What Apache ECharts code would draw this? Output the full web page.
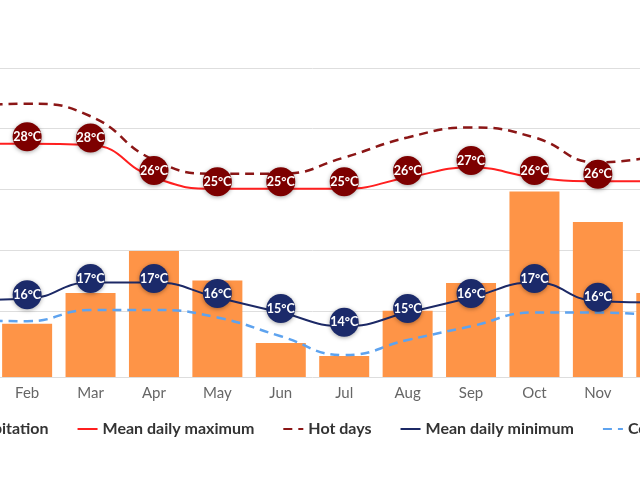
<!DOCTYPE html>
<html>
<head>
<meta charset="utf-8">
<script src="https://cdn.jsdelivr.net/npm/echarts@6/dist/echarts.min.js"></script>
<style>
html,body{margin:0;padding:0;width:640px;height:480px;overflow:hidden;background:#fff;}
#chart{position:absolute;left:-130px;top:0;width:900px;height:480px;}
</style>
</head>
<body>
<div id="chart"></div>
<script>
const months = ['Jan','Feb','Mar','Apr','May','Jun','Jul','Aug','Sep','Oct','Nov','Dec'];
const precipitation = [40, 43, 68, 102, 78, 27.5, 17, 53.5, 76, 150, 125.5, 68];
const meanMax = [28.5, 28.5, 28.4, 25.8, 24.9, 24.9, 24.9, 25.8, 26.6, 25.8, 25.5, 25.5];
const hotDays = [31.5, 31.7, 30.7, 27.2, 26.1, 26.1, 27.4, 29.0, 29.8, 29.0, 27.0, 27.6];
const meanMin = [16.0, 16.1, 17.4, 17.4, 16.2, 15.0, 13.9, 15.0, 16.2, 17.4, 15.9, 15.8];
const coldNights = [14.4, 14.3, 15.2, 15.2, 14.6, 13.1, 11.6, 12.8, 13.9, 15.0, 15.0, 14.7];
const maxLabels = [28, 28, 28, 26, 25, 25, 25, 26, 27, 26, 26, 26];
const minLabels = [16, 16, 17, 17, 16, 15, 14, 15, 16, 17, 16, 16];
const legendNames = ['Precipitation','Mean daily maximum','Hot days','Mean daily minimum','Cold nights'];

const chart = echarts.init(document.getElementById('chart'), null, {renderer:'canvas'});
const FONT = 'Lato, "Noto Sans", sans-serif';

function circleSeries(name, values, labels, color, offset) {
  return {
    name: name, type: 'scatter', xAxisIndex: 0, yAxisIndex: 1,
    data: values, symbol: 'circle', symbolSize: 29, symbolOffset: [0, offset],
    z: 5, silent: true,
    itemStyle: {color: color, opacity: 1, shadowBlur: 4, shadowColor: 'rgba(0,0,0,0.35)', shadowOffsetY: 1},
    label: {
      show: true, position: 'inside', color: '#fff', fontFamily: FONT,
      fontSize: 12.5, fontWeight: 'bold',
      formatter: p => labels[p.dataIndex] + '°C'
    }
  };
}

chart.setOption({
  animation: false,
  textStyle: {fontFamily: FONT},
  legend: {
    data: legendNames.map((n, i) => i === 0 ? {name: n} : {name: n, itemStyle: {opacity: 0}}),
    top: 416, left: 'center', itemGap: 28,
    itemWidth: 20, itemHeight: 12,
    textStyle: {fontFamily: FONT, fontSize: 16, fontWeight: 'bold', color: '#333'}
  },
  grid: [
    {left: 62, width: 761, top: 68, height: 309},
    {left: 62, width: 761, top: 68, height: 242.8}
  ],
  xAxis: [
    {type: 'category', gridIndex: 0, data: months, boundaryGap: true,
     axisLine: {lineStyle: {color: '#dddddd'}}, axisTick: {show: false},
     axisLabel: {color: '#666', fontSize: 15, fontFamily: FONT, margin: 9}},
    {type: 'value', gridIndex: 1, show: false, min: 0, max: 1}
  ],
  yAxis: [
    {type: 'value', gridIndex: 0, min: 0, max: 250, show: false, splitLine: {show: false}},
    {type: 'value', gridIndex: 0, min: 9.84, max: 34.56, show: false, splitLine: {show: false}},
    {type: 'value', gridIndex: 1, min: 0, max: 4, interval: 1,
     axisLine: {show: false}, axisTick: {show: false}, axisLabel: {show: false},
     splitLine: {show: true, lineStyle: {color: '#dedede', width: 1}}}
  ],
  series: [
    {name: 'Precipitation', type: 'bar', xAxisIndex: 0, yAxisIndex: 0, data: precipitation,
     barWidth: 50, itemStyle: {color: '#fe9447'}, z: 1},
    {name: 'Mean daily maximum', type: 'line', xAxisIndex: 0, yAxisIndex: 1, data: meanMax,
     smooth: 0.5, symbol: 'none', lineStyle: {color: '#ff1f1f', width: 2}, itemStyle: {color: '#ff1f1f'}, z: 3},
    {name: 'Hot days', type: 'line', xAxisIndex: 0, yAxisIndex: 1, data: hotDays,
     smooth: 0.5, symbol: 'none', lineStyle: {color: '#8b1616', width: 2.5, type: [9, 6]}, itemStyle: {color: '#8b1616'}, z: 3},
    {name: 'Mean daily minimum', type: 'line', xAxisIndex: 0, yAxisIndex: 1, data: meanMin,
     smooth: 0.5, symbol: 'none', lineStyle: {color: '#1c2966', width: 2}, itemStyle: {color: '#1c2966'}, z: 3},
    {name: 'Cold nights', type: 'line', xAxisIndex: 0, yAxisIndex: 1, data: coldNights,
     smooth: 0.5, symbol: 'none', lineStyle: {color: '#5ea3ef', width: 2.5, type: [9, 6]}, itemStyle: {color: '#5ea3ef'}, z: 3},
    circleSeries('maxCircles', meanMax, maxLabels, '#7d0000', -7),
    circleSeries('minCircles', meanMin, minLabels, '#1b2a6a', -4)
  ]
});
</script>
</body>
</html>
